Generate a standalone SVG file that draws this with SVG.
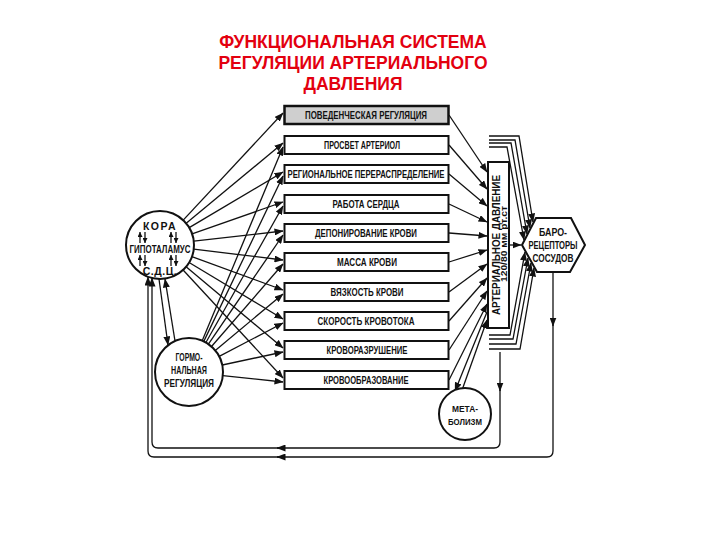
<svg xmlns="http://www.w3.org/2000/svg" width="720" height="540" viewBox="0 0 720 540">
<defs>
<marker id="ah" markerWidth="9" markerHeight="7" refX="8.5" refY="3.5" orient="auto" markerUnits="userSpaceOnUse"><path d="M0,0 L9,3.5 L0,7 z" fill="#111"/></marker>
<marker id="sm" markerWidth="5" markerHeight="5" refX="5" refY="2.5" orient="auto" markerUnits="userSpaceOnUse"><path d="M0,0 L5,2.5 L0,5 z" fill="#111"/></marker>
</defs>
<style>
.t{font-family:"Liberation Sans",Arial,sans-serif;font-weight:bold;fill:#111;text-anchor:middle}
.bt{font-size:10.5px}
.box{fill:#fff;stroke:#111;stroke-width:2}
.ln{fill:none;stroke:#111;stroke-width:1.3}
.ar{marker-end:url(#ah)}
.node{fill:#fff;stroke:#111;stroke-width:2}
.title{font-family:"Liberation Sans",Arial,sans-serif;font-weight:bold;font-size:17.5px;fill:#e3000f;text-anchor:middle}
</style>
<rect width="720" height="540" fill="#fff"/>
<g id="title">
<text class="title" x="353" y="48">ФУНКЦИОНАЛЬНАЯ СИСТЕМА</text>
<text class="title" x="353" y="69">РЕГУЛЯЦИИ АРТЕРИАЛЬНОГО</text>
<text class="title" x="353" y="90">ДАВЛЕНИЯ</text>
</g>
<g id="connectors">
<path class="ln ar" d="M183.2,220.1 L283,113"/>
<path class="ln ar" d="M186.2,223.3 L283,143"/>
<path class="ln ar" d="M189.2,227.6 L283,172"/>
<path class="ln ar" d="M192.1,233.8 L283,202"/>
<path class="ln ar" d="M193.8,241.2 L283,231"/>
<path class="ln ar" d="M193.8,249.1 L283,260"/>
<path class="ln ar" d="M191.9,256.7 L283,290"/>
<path class="ln ar" d="M189.1,262.5 L283,319"/>
<path class="ln ar" d="M186.1,266.8 L283,348"/>
<path class="ln ar" d="M183.1,270.0 L283,378"/>
<path class="ln ar" d="M202.2,340.7 L283,147"/>
<path class="ln ar" d="M203.8,341.4 L283,176"/>
<path class="ln ar" d="M205.9,342.5 L283,206"/>
<path class="ln ar" d="M208.4,344.1 L283,235"/>
<path class="ln ar" d="M211.5,346.5 L283,264"/>
<path class="ln ar" d="M215.3,350.4 L283,294"/>
<path class="ln ar" d="M219.2,356.4 L283,323"/>
<path class="ln ar" d="M222.3,365.0 L283,352"/>
<path class="ln ar" d="M222.8,375.6 L283,382"/>
<path class="ln ar" d="M159,279 L168,345"/>
<path class="ln ar" d="M175,341 L165,279"/>
<path class="ln ar" d="M449,115 L487,172"/>
<path class="ln ar" d="M449,145 L487,189"/>
<path class="ln ar" d="M449,174 L487,206"/>
<path class="ln ar" d="M449,204 L487,222"/>
<path class="ln ar" d="M449,233 L487,236"/>
<path class="ln ar" d="M449,262 L487,250"/>
<path class="ln ar" d="M449,292 L487,264"/>
<path class="ln ar" d="M449,321 L487,278"/>
<path class="ln ar" d="M449,350 L487,291"/>
<path class="ln ar" d="M449,380 L487,304"/>
<path class="ln ar" d="M487,312 L455,391"/>
<path class="ln ar" d="M461,393 L487,320"/>
<path class="ln ar" d="M509,245 L521,245"/>
<path class="ln ar" d="M489,147 L507,147 L524,240"/>
<path class="ln ar" d="M489,143 L511,143 L527,234"/>
<path class="ln ar" d="M489,140 L515,140 L530,228"/>
<path class="ln ar" d="M489,136 L519,136 L533,222"/>
<path class="ln ar" d="M489,335 L510,335 L525,252"/>
<path class="ln ar" d="M489,339 L513,339 L528,258"/>
<path class="ln ar" d="M489,344 L516,344 L531,263"/>
<path class="ln ar" d="M489,349 L520,349 L534,268"/>
<path class="ln ar" d="M553,272 L553,326"/>
<path class="ln ar" d="M553,322 L553,451 Q553,457 547,457 L277,457"/>
<path class="ln ar" d="M280,457 L154,457 Q148,457 148,451 L148,277"/>
<path class="ln ar" d="M500,352 L500,391"/>
<path class="ln ar" d="M500,387 L500,442 Q500,448 494,448 L277,448"/>
<path class="ln ar" d="M280,448 L158,448 Q152,448 152,442 L152,278"/>
</g>
<g id="cortex">
<circle class="node" cx="160" cy="245" r="34"/>
<text class="t" x="160" y="229.5" font-size="10.5" letter-spacing="1.5">КОРА</text>
<text class="t" x="160" y="252.5" font-size="10.5" textLength="61" lengthAdjust="spacingAndGlyphs">ГИПОТАЛАМУС</text>
<text class="t" x="160" y="274.5" font-size="10.5" letter-spacing="0.5">С.Д.Ц.</text>
<g class="ln">
<path d="M140,243 L140,232" marker-end="url(#sm)"/>
<path d="M145,232 L145,243" marker-end="url(#sm)"/>
<path d="M171,243 L171,232" marker-end="url(#sm)"/>
<path d="M176,232 L176,243" marker-end="url(#sm)"/>
<path d="M140,266 L140,255" marker-end="url(#sm)"/>
<path d="M145,255 L145,266" marker-end="url(#sm)"/>
<path d="M171,266 L171,255" marker-end="url(#sm)"/>
<path d="M176,255 L176,266" marker-end="url(#sm)"/>
</g>
</g>
<g id="hormonal">
<circle class="node" cx="189" cy="372" r="34"/>
<text class="t" x="189" y="361" font-size="10" textLength="27" lengthAdjust="spacingAndGlyphs">ГОРМО-</text>
<text class="t" x="189" y="374" font-size="10" textLength="36" lengthAdjust="spacingAndGlyphs">НАЛЬНАЯ</text>
<text class="t" x="189" y="387" font-size="10" textLength="50" lengthAdjust="spacingAndGlyphs">РЕГУЛЯЦИЯ</text>
</g>
<g id="b1"><rect x="284.5" y="106" width="164" height="18" fill="#cfcfcf" stroke="#111" stroke-width="2.5"/><text class="t bt" x="366" y="119" fill="#333" textLength="122" lengthAdjust="spacingAndGlyphs">ПОВЕДЕНЧЕСКАЯ РЕГУЛЯЦИЯ</text></g>
<g id="b2"><rect class="box" x="284.5" y="136" width="164" height="18"/><text class="t bt" x="362" y="149" textLength="76" lengthAdjust="spacingAndGlyphs">ПРОСВЕТ АРТЕРИОЛ</text></g>
<g id="b3"><rect class="box" x="284.5" y="165" width="164" height="18"/><text class="t bt" x="366" y="178" textLength="157" lengthAdjust="spacingAndGlyphs">РЕГИОНАЛЬНОЕ ПЕРЕРАСПРЕДЕЛЕНИЕ</text></g>
<g id="b4"><rect class="box" x="284.5" y="195" width="164" height="18"/><text class="t bt" x="366" y="208" textLength="67" lengthAdjust="spacingAndGlyphs">РАБОТА СЕРДЦА</text></g>
<g id="b5"><rect class="box" x="284.5" y="224" width="164" height="18"/><text class="t bt" x="366" y="237" textLength="102" lengthAdjust="spacingAndGlyphs">ДЕПОНИРОВАНИЕ КРОВИ</text></g>
<g id="b6"><rect class="box" x="284.5" y="253" width="164" height="18"/><text class="t bt" x="367" y="266" textLength="60" lengthAdjust="spacingAndGlyphs">МАССА КРОВИ</text></g>
<g id="b7"><rect class="box" x="284.5" y="283" width="164" height="18"/><text class="t bt" x="367" y="296" textLength="73" lengthAdjust="spacingAndGlyphs">ВЯЗКОСТЬ КРОВИ</text></g>
<g id="b8"><rect class="box" x="284.5" y="312" width="164" height="18"/><text class="t bt" x="366" y="325" textLength="97" lengthAdjust="spacingAndGlyphs">СКОРОСТЬ КРОВОТОКА</text></g>
<g id="b9"><rect class="box" x="284.5" y="341" width="164" height="18"/><text class="t bt" x="367" y="354" textLength="81" lengthAdjust="spacingAndGlyphs">КРОВОРАЗРУШЕНИЕ</text></g>
<g id="b10"><rect class="box" x="284.5" y="371" width="164" height="18"/><text class="t bt" x="366" y="384" textLength="85" lengthAdjust="spacingAndGlyphs">КРОВООБРАЗОВАНИЕ</text></g>
<g id="pressure">
<rect class="node" x="488" y="162" width="21" height="166"/>
<text class="t" transform="translate(499.5,245) rotate(-90)" font-size="10.5" textLength="140" lengthAdjust="spacingAndGlyphs">АРТЕРИАЛЬНОЕ ДАВЛЕНИЕ</text>
<text class="t" transform="translate(507,244) rotate(-90)" font-size="8.5" textLength="76" lengthAdjust="spacingAndGlyphs">120/80 мм рт.ст</text>
</g>
<g id="baroreceptors">
<polygon class="node" points="522,245 536,218 571,218 585,245 570,272 537,272"/>
<text class="t" x="553" y="236" font-size="10" textLength="28" lengthAdjust="spacingAndGlyphs">БАРО-</text>
<text class="t" x="553" y="249" font-size="10" textLength="49" lengthAdjust="spacingAndGlyphs">РЕЦЕПТОРЫ</text>
<text class="t" x="553" y="262" font-size="10" textLength="41" lengthAdjust="spacingAndGlyphs">СОСУДОВ</text>
</g>
<g id="metabolism">
<circle class="node" cx="465" cy="414" r="26"/>
<text class="t" x="465" y="412" font-size="9.5" textLength="26" lengthAdjust="spacingAndGlyphs">МЕТА-</text>
<text class="t" x="465" y="425" font-size="9.5" textLength="34" lengthAdjust="spacingAndGlyphs">БОЛИЗМ</text>
</g>
</svg>
